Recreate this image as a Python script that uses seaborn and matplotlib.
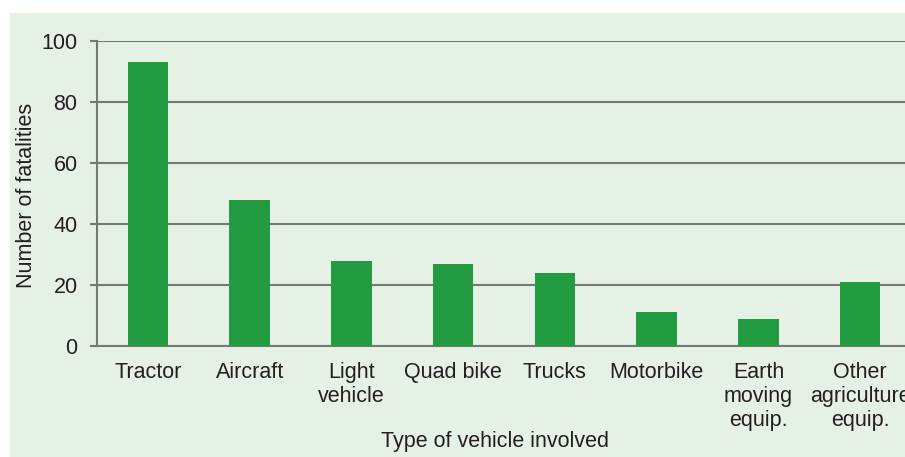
import pandas as pd
import seaborn as sns
import matplotlib.pyplot as plt
from matplotlib.patches import Rectangle

vehicles = ['Tractor', 'Aircraft', 'Light\nvehicle', 'Quad bike', 'Trucks',
            'Motorbike', 'Earth\nmoving\nequip.', 'Other\nagriculture\nequip.']
fatalities = [93, 48, 28, 27, 24, 11, 9, 21]
yticks = [0, 20, 40, 60, 80, 100]

df = pd.DataFrame({'vehicle': vehicles, 'fatalities': fatalities})

bg = '#e6f1e5'
bar_col = '#239b40'
grid_col = '#737a73'
txt_col = '#231f20'
fs = 15.5

sns.set_style('white')
plt.rcParams['font.family'] = ['Liberation Sans', 'DejaVu Sans']

fig = plt.figure(figsize=(9.05, 4.57), dpi=100)
# light green panel behind the chart
fig.patches.append(Rectangle((10 / 905, 0), 1, 1 - 13 / 457, transform=fig.transFigure,
                             facecolor=bg, edgecolor='none', zorder=-10))
ax = fig.add_axes([97 / 905, 111 / 457, 814 / 905, 305 / 457])
ax.set_facecolor(bg)

sns.barplot(data=df, x='vehicle', y='fatalities', color=bar_col, saturation=1,
            width=0.4, linewidth=0, ax=ax, zorder=3)

ax.set_ylim(0, 100)
ax.set_yticks(yticks)
ax.set_xlim(-0.5, len(vehicles) - 0.5)
ax.yaxis.grid(True, color=grid_col, linewidth=1.5, zorder=1)
ax.set_axisbelow(True)
for s in ['top', 'right']:
    ax.spines[s].set_visible(False)
for s in ['left', 'bottom']:
    ax.spines[s].set_color(grid_col)
    ax.spines[s].set_linewidth(1.5)

ax.tick_params(axis='y', length=5, width=1.5, color=grid_col, pad=9,
               labelsize=fs, labelcolor=txt_col, left=True)
ax.tick_params(axis='x', length=0, pad=11.5, labelsize=fs, labelcolor=txt_col)
for lbl in ax.get_xticklabels():
    lbl.set_linespacing(1.2)
    lbl.set_ha('center')

ax.set_xlabel('Type of vehicle involved', fontsize=fs, color=txt_col)
ax.xaxis.set_label_coords(0.489, -0.279)
ax.set_ylabel('Number of fatalities', fontsize=fs, color=txt_col)
ax.yaxis.set_label_coords(-0.074, 0.495)

fig.savefig('out.png', dpi=100, facecolor='white')
